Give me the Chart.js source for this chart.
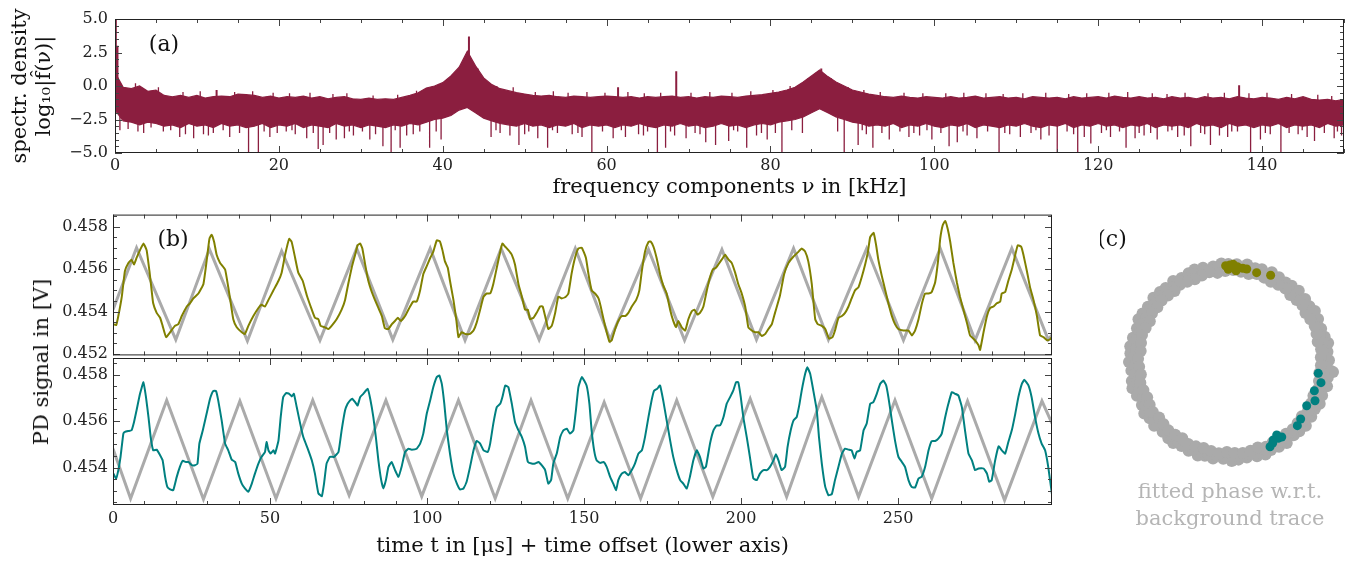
<!DOCTYPE html>
<html>
<head>
<meta charset="utf-8">
<title>spectrum and PD signal</title>
<script src="https://cdn.jsdelivr.net/npm/chart.js@4.4.1/dist/chart.umd.min.js"></script>
<style>
  body { margin: 0; background: #fff; width: 1369px; height: 565px; position: relative; overflow: hidden; font-family: 'DejaVu Serif', serif; }
  canvas { position: absolute; }
  #ylabB { position: absolute; left: 41px; top: 362px; transform: translate(-50%, -50%) rotate(-90deg); font-size: 21px; white-space: nowrap; color: #111; }
</style>
</head>
<body>
<canvas id="specChart" width="1369" height="200" style="left:0;top:0"></canvas>
<canvas id="oliveChart" width="1100" height="170" style="left:0;top:200px"></canvas>
<canvas id="tealChart" width="1100" height="225" style="left:0;top:340px"></canvas>
<canvas id="phaseChart" width="269" height="345" style="left:1100px;top:220px"></canvas>
<div id="ylabB">PD signal in [V]</div>
<script>
// ---- tick labels ----
const freqTicks = [0, 20, 40, 60, 80, 100, 120, 140];
const specTicks = [-5, -2.5, 0, 2.5, 5];
const timeTicks = [0, 50, 100, 150, 200, 250];
const voltTicks = [0.452, 0.454, 0.456, 0.458];

// ---- panel (a): spectral density, band edges per 1 kHz bin (log10) ----
const specHi = [1.0,-0.1,-0.2,0.0,-0.4,-0.3,-0.7,-0.8,-0.7,-0.85,-0.7,-0.9,-0.8,-0.75,-0.8,-0.6,-0.65,-0.7,-0.85,-0.75,
  -0.9,-0.8,-0.85,-0.75,-0.9,-0.8,-0.95,-0.85,-0.8,-0.95,-1.0,-0.9,-1.0,-0.95,-1.0,-0.85,-0.7,-0.5,-0.15,0.0,
  0.25,0.75,1.4,2.6,1.5,0.6,0.1,-0.2,-0.35,-0.5,-0.6,-0.7,-0.75,-0.7,-0.8,-0.85,-0.75,-0.8,-0.85,-0.8,
  -0.75,-0.8,-0.85,-0.8,-0.9,-0.8,-0.85,-0.8,-0.75,-0.85,-0.8,-0.9,-0.8,-0.85,-0.75,-0.8,-0.85,-0.75,-0.7,-0.65,
  -0.55,-0.45,-0.3,-0.1,0.3,0.75,1.2,0.7,0.3,0.0,-0.3,-0.45,-0.6,-0.7,-0.8,-0.85,-0.75,-0.85,-0.9,-0.8,
  -0.85,-0.9,-0.8,-0.9,-0.85,-0.75,-0.9,-0.85,-0.8,-0.9,-0.85,-0.95,-0.8,-0.85,-0.9,-0.85,-0.95,-0.8,-0.9,-0.85,
  -0.8,-0.9,-0.75,-0.85,-0.9,-0.8,-0.9,-0.85,-0.95,-0.8,-0.9,-0.85,-0.95,-0.8,-0.9,-0.85,-0.95,-0.8,-0.9,-0.95,
  -0.85,-0.9,-1.0,-0.85,-0.95,-0.8,-1.0,-1.05,-1.0,-1.1,-1.0];
const specLo = [-1.8,-2.6,-2.7,-2.9,-2.7,-2.8,-3.0,-2.9,-3.1,-2.8,-3.0,-2.9,-3.1,-2.8,-3.0,-2.9,-3.1,-3.0,-2.8,-3.1,
  -2.9,-3.0,-2.8,-3.1,-2.9,-3.0,-3.1,-2.8,-3.0,-2.9,-3.1,-2.9,-3.0,-3.1,-2.9,-3.0,-2.8,-2.9,-2.7,-2.5,
  -2.4,-2.2,-1.8,-1.6,-2.0,-2.4,-2.6,-2.8,-2.9,-3.0,-2.8,-3.0,-2.9,-3.1,-2.9,-3.0,-2.8,-3.1,-2.9,-3.0,
  -2.9,-3.1,-2.9,-3.0,-2.8,-3.0,-3.1,-2.9,-3.0,-2.8,-3.0,-2.9,-3.1,-3.0,-2.8,-3.0,-2.9,-3.1,-2.9,-2.8,
  -2.9,-2.7,-2.6,-2.5,-2.3,-2.0,-1.7,-2.0,-2.3,-2.5,-2.7,-2.8,-3.0,-2.9,-3.0,-2.8,-3.1,-2.9,-3.0,-2.8,
  -3.0,-3.1,-2.9,-3.0,-2.8,-3.1,-2.9,-3.0,-3.1,-2.9,-3.0,-2.8,-3.0,-3.1,-2.9,-3.0,-2.8,-3.1,-2.9,-3.0,
  -2.8,-3.0,-2.9,-3.1,-2.9,-3.0,-2.8,-3.1,-2.9,-3.0,-2.9,-3.1,-2.8,-3.0,-2.9,-3.1,-2.8,-3.0,-2.9,-3.1,
  -2.9,-3.0,-2.8,-3.1,-2.9,-3.0,-2.9,-3.1,-2.8,-3.0,-2.9];
const specFreq = specHi.map((_, i) => i);   // kHz, one bin per kHz

// single-bin dips below the band [kHz, log10]
const dips = [[0.6,-3.3],[1.6,-3.2],[2.8,-3.4],[3.5,-3.5],[4.4,-3.1],[5.9,-3.4],[6.8,-3.3],[7.9,-3.8],[8.6,-3.6],[9.6,-3.9],
  [10.8,-3.6],[11.4,-3.7],[12.0,-3.5],[13.2,-3.3],[14.0,-3.8],[15.2,-3.5],[16.3,-5.0],[17.5,-5.0],[18.2,-3.4],[18.9,-3.8],
  [19.8,-3.5],[20.9,-3.4],[21.6,-3.3],[22.0,-3.6],[23.4,-3.9],[24.2,-3.5],[24.8,-4.7],[25.4,-4.4],[26.2,-3.5],[27.0,-4.0],
  [28.0,-3.9],[28.6,-3.4],[29.1,-3.7],[30.2,-3.4],[31.1,-4.0],[31.8,-3.6],[32.7,-4.5],[33.7,-5.0],[34.2,-3.3],[34.8,-4.6],
  [35.6,-3.7],[36.4,-3.6],[37.2,-3.4],[38.4,-4.6],[39.2,-3.4],[39.8,-4.0],[45.9,-3.8],[46.5,-3.3],[47.0,-3.5],[48.2,-3.7],
  [49.3,-4.4],[50.0,-3.6],[50.5,-3.4],[51.6,-3.9],[52.8,-4.6],[53.4,-3.3],[54.0,-3.5],[55.8,-3.6],[56.5,-3.5],[57.0,-3.8],
  [58.2,-5.0],[59.5,-3.4],[60.8,-3.9],[61.8,-3.3],[62.3,-3.8],[63.9,-3.6],[64.5,-3.7],[65.0,-3.4],[66.2,-5.0],[67.2,-4.6],
  [67.8,-3.4],[68.3,-3.7],[69.7,-3.9],[70.8,-3.5],[71.4,-3.6],[72.1,-4.2],[73.3,-4.4],[74.9,-4.1],[75.5,-3.3],[76.0,-3.4],
  [77.1,-4.6],[78.3,-3.7],[78.9,-3.5],[79.6,-4.0],[80.6,-3.5],[81.4,-5.0],[82.6,-3.3],[83.9,-3.5],[88.2,-3.4],[89.0,-5.0],
  [90.7,-4.4],[91.2,-3.3],[91.7,-3.6],[92.5,-4.6],[93.6,-3.5],[94.5,-4.0],[95.8,-3.4],[96.9,-3.8],[97.5,-3.5],[98.2,-3.7],
  [99.1,-3.3],[99.7,-4.0],[100.8,-3.5],[101.8,-4.5],[102.8,-4.2],[103.5,-3.4],[104.0,-3.7],[105.2,-3.9],[106.5,-3.4],
  [107.9,-5.0],[108.6,-3.5],[109.2,-3.6],[110.5,-3.8],[111.8,-3.5],[112.4,-3.3],[113.0,-4.0],[114.0,-3.7],[115.0,-5.0],
  [116.2,-3.4],[117.0,-3.6],[117.5,-5.0],[118.3,-3.8],[119.1,-4.3],[120.4,-3.5],[121.0,-3.3],[121.5,-3.8],[122.6,-3.4],
  [123.4,-4.6],[124.5,-3.9],[125.0,-3.5],[125.6,-3.7],[126.4,-3.5],[127.2,-4.0],[128.5,-3.4],[129.0,-3.3],[129.7,-3.8],
  [130.5,-3.7],[131.3,-4.5],[132.5,-3.5],[133.0,-3.6],[133.7,-4.4],[134.8,-3.7],[135.8,-3.8],[136.3,-3.4],[137.0,-3.4],
  [138.6,-5.0],[139.8,-4.0],[140.4,-3.5],[141.0,-3.6],[142.3,-5.0],[143.3,-3.5],[144.4,-3.6],[144.9,-3.3],[145.5,-3.8],
  [146.4,-4.1],[147.6,-3.5],[148.8,-3.9],[149.2,-3.4],[149.7,-3.7]];
// short excursions above the band top [kHz, log10]
const hairs = [[2.5,0.2],[5.3,-0.1],[8.3,-0.45],[10.4,-0.4],[14.6,-0.45],[16.8,-0.4],[19.3,-0.5],[21.3,-0.55],[23.8,-0.5],
  [26.6,-0.6],[28.3,-0.55],[31.5,-0.7],[34.5,-0.65],[36.8,-0.35],[40.5,0.5],[41.6,1.0],[44.3,1.3],[46.6,0.0],[48.6,-0.1],
  [51.3,-0.45],[53.5,-0.4],[55.3,-0.5],[57.6,-0.45],[59.8,-0.5],[62.6,-0.45],[64.6,-0.55],[66.6,-0.5],[70.3,-0.5],
  [72.6,-0.45],[75.3,-0.5],[77.6,-0.4],[80.3,-0.3],[82.4,0.0],[84.6,0.6],[85.6,1.0],[87.4,0.6],[89.5,-0.1],[91.4,-0.3],
  [93.4,-0.45],[96.3,-0.5],[98.6,-0.55],[101.4,-0.55],[103.6,-0.5],[106.3,-0.55],[108.4,-0.6],[110.8,-0.55],[113.6,-0.5],
  [116.4,-0.6],[118.6,-0.55],[121.3,-0.5],[123.6,-0.45],[126.6,-0.55],[128.4,-0.6],[130.6,-0.5],[133.4,-0.55],[135.4,-0.5],
  [138.4,-0.55],[140.6,-0.5],[143.6,-0.6],[146.8,-0.65],[148.5,-0.75]];
// narrow lines far above the band [kHz, log10]
const spikes = [[0.1,5.0],[0.3,3.0],[12.4,-0.3],[43.2,3.7],[61.4,-0.1],[68.5,1.1],[86.2,1.3],[137.2,0.05]];

// ---- panel (b): PD signal traces [t in us, V] ----
const greyTop = [[0,0.45409],[7.5,0.45700],[20.0,0.45268],[30.7,0.45694],[42.8,0.45262],[53.7,0.45685],[65.9,0.45265],
  [77.6,0.45697],[89.1,0.45268],[101.0,0.45697],[112.1,0.45265],[123.6,0.45697],[135.7,0.45268],[147.2,0.45697],
  [158.3,0.45268],[170.5,0.45692],[182.0,0.45265],[193.9,0.45692],[204.9,0.45268],[216.7,0.45697],[227.8,0.45268],
  [240.0,0.45697],[251.7,0.45265],[263.4,0.45697],[274.5,0.45265],[286.2,0.45697],[297.8,0.45268],[299,0.45290]];
const oliveTrace = [[0.1,0.45341],[1.0,0.45336],[1.7,0.45379],[2.8,0.45470],[3.8,0.45591],[4.9,0.45629],[5.9,0.45644],
  [6.7,0.45621],[7.5,0.45652],[8.6,0.45689],[9.7,0.45720],[10.7,0.45689],[11.6,0.45591],[12.3,0.45500],[12.8,0.45439],
  [13.9,0.45394],[15.0,0.45371],[15.8,0.45333],[16.9,0.45280],[18.2,0.45303],[19.7,0.45333],[20.8,0.45341],[21.9,0.45379],
  [23.5,0.45424],[24.5,0.45439],[25.6,0.45462],[27.2,0.45485],[28.8,0.45530],[29.8,0.45636],[30.7,0.45742],[31.4,0.45761],
  [32.2,0.45727],[33.0,0.45667],[34.1,0.45629],[35.7,0.45598],[36.7,0.45515],[37.5,0.45439],[38.3,0.45364],[39.4,0.45326],
  [41.0,0.45303],[42.0,0.45295],[43.1,0.45333],[44.7,0.45379],[46.3,0.45417],[47.3,0.45432],[48.4,0.45424],[49.5,0.45455],
  [51.1,0.45500],[52.7,0.45545],[53.7,0.45583],[54.8,0.45667],[56.1,0.45742],[56.9,0.45727],[58.0,0.45652],[59.0,0.45583],
  [60.4,0.45545],[61.7,0.45477],[63.3,0.45409],[64.3,0.45371],[65.4,0.45364],[66.1,0.45333],[67.5,0.45326],[68.6,0.45318],
  [69.6,0.45333],[71.2,0.45364],[72.8,0.45409],[73.9,0.45455],[74.9,0.45530],[76.0,0.45606],[77.1,0.45667],[77.9,0.45712],
  [78.7,0.45720],[79.4,0.45697],[80.3,0.45621],[81.3,0.45545],[82.4,0.45492],[83.4,0.45455],[84.5,0.45417],[85.6,0.45379],
  [86.6,0.45321],[87.7,0.45318],[88.8,0.45341],[89.8,0.45356],[90.7,0.45371],[91.7,0.45356],[93.0,0.45379],[94.6,0.45424],
  [95.6,0.45447],[96.7,0.45447],[97.8,0.45500],[98.8,0.45576],[99.9,0.45614],[101.0,0.45652],[102.0,0.45682],[103.1,0.45735],
  [104.1,0.45730],[104.9,0.45689],[105.7,0.45636],[106.6,0.45606],[107.3,0.45545],[108.4,0.45455],[109.3,0.45364],
  [110.0,0.45280],[111.0,0.45303],[112.1,0.45295],[113.7,0.45295],[114.8,0.45311],[115.8,0.45348],[116.9,0.45409],
  [118.0,0.45470],[119.0,0.45485],[120.1,0.45485],[121.1,0.45530],[122.2,0.45606],[123.3,0.45682],[124.0,0.45720],
  [124.9,0.45705],[125.9,0.45689],[127.0,0.45667],[128.0,0.45621],[129.1,0.45530],[130.2,0.45470],[131.2,0.45409],
  [132.1,0.45409],[132.8,0.45364],[133.9,0.45371],[134.9,0.45394],[136.0,0.45424],[136.8,0.45424],[137.6,0.45379],
  [138.6,0.45318],[139.7,0.45333],[140.8,0.45394],[141.8,0.45470],[142.9,0.45462],[144.2,0.45470],[145.0,0.45485],
  [146.0,0.45576],[147.1,0.45652],[148.2,0.45697],[149.3,0.45700],[150.6,0.45652],[151.4,0.45576],[152.4,0.45500],
  [153.5,0.45485],[154.6,0.45462],[155.3,0.45424],[156.2,0.45364],[157.2,0.45303],[158.1,0.45258],[158.8,0.45265],
  [159.9,0.45318],[160.9,0.45356],[162.0,0.45379],[163.1,0.45379],[164.1,0.45394],[165.2,0.45424],[166.6,0.45455],
  [167.6,0.45500],[168.4,0.45591],[169.4,0.45682],[170.5,0.45727],[171.2,0.45730],[172.1,0.45705],[173.1,0.45652],
  [174.2,0.45576],[175.2,0.45523],[176.3,0.45485],[177.4,0.45409],[178.4,0.45356],[179.3,0.45326],[180.0,0.45356],
  [181.1,0.45326],[182.2,0.45311],[183.2,0.45364],[184.3,0.45402],[185.1,0.45409],[186.1,0.45386],[186.9,0.45394],
  [188.0,0.45424],[189.1,0.45500],[190.1,0.45561],[191.0,0.45598],[192.0,0.45606],[193.1,0.45629],[194.2,0.45652],
  [194.9,0.45667],[196.0,0.45644],[197.0,0.45629],[198.1,0.45583],[199.1,0.45530],[200.2,0.45485],[201.3,0.45424],
  [202.3,0.45326],[203.4,0.45311],[204.5,0.45303],[205.5,0.45303],[206.6,0.45285],[207.7,0.45295],[208.7,0.45318],
  [209.8,0.45341],[210.8,0.45394],[212.4,0.45477],[213.7,0.45576],[215.1,0.45629],[216.7,0.45659],[218.3,0.45682],
  [219.3,0.45697],[220.4,0.45682],[221.4,0.45636],[222.5,0.45530],[223.6,0.45364],[224.4,0.45341],[225.7,0.45333],
  [226.8,0.45318],[228.0,0.45273],[229.1,0.45280],[229.9,0.45311],[231.0,0.45371],[232.1,0.45379],[233.1,0.45394],
  [234.2,0.45424],[235.2,0.45462],[236.3,0.45500],[237.4,0.45515],[238.4,0.45561],[239.5,0.45621],[240.4,0.45682],
  [241.1,0.45750],[242.2,0.45770],[243.0,0.45712],[243.7,0.45644],[244.8,0.45568],[245.9,0.45500],[246.9,0.45439],
  [248.0,0.45379],[249.0,0.45341],[250.1,0.45318],[251.7,0.45311],[253.3,0.45311],[254.4,0.45288],[255.4,0.45311],
  [256.5,0.45364],[257.6,0.45439],[258.6,0.45485],[259.7,0.45485],[260.7,0.45492],[261.8,0.45538],[262.7,0.45636],
  [263.4,0.45742],[264.2,0.45806],[265.0,0.45826],[265.8,0.45788],[266.6,0.45727],[267.6,0.45629],[268.7,0.45538],
  [269.7,0.45470],[270.8,0.45409],[271.9,0.45348],[272.9,0.45288],[274.5,0.45265],[275.6,0.45242],[276.1,0.45220],
  [277.2,0.45303],[278.3,0.45379],[279.3,0.45417],[280.4,0.45424],[281.4,0.45439],[282.5,0.45447],[283.0,0.45485],
  [284.1,0.45492],[285.1,0.45545],[286.2,0.45598],[287.3,0.45667],[288.1,0.45712],[289.2,0.45705],[289.9,0.45667],
  [291.0,0.45591],[292.0,0.45515],[293.1,0.45455],[294.2,0.45379],[295.2,0.45288],[296.3,0.45280],[297.4,0.45265],
  [298.4,0.45270],[299.0,0.45280]];
const greyBottom = [[0,0.45481],[5.6,0.45267],[17.1,0.45689],[28.8,0.45264],[40.4,0.45686],[51.9,0.45267],[63.6,0.45689],
  [75.2,0.45281],[86.9,0.45689],[98.3,0.45276],[110.0,0.45689],[121.7,0.45267],[133.1,0.45689],[144.8,0.45267],
  [156.4,0.45681],[168.0,0.45267],[179.5,0.45689],[191.0,0.45274],[202.9,0.45696],[214.5,0.45274],[225.7,0.45703],
  [237.4,0.45274],[249.0,0.45689],[260.7,0.45267],[272.1,0.45686],[283.9,0.45260],[295.8,0.45686],[299,0.45590]];
const tealTrace = [[0.1,0.45374],[1.0,0.45353],[1.7,0.45389],[2.4,0.45446],[3.3,0.45546],[3.8,0.45553],[4.9,0.45557],
  [5.9,0.45560],[6.7,0.45596],[7.5,0.45646],[8.6,0.45717],[9.7,0.45767],[10.5,0.45703],[11.3,0.45617],[12.0,0.45531],
  [12.8,0.45474],[13.9,0.45477],[15.0,0.45453],[15.8,0.45431],[16.6,0.45360],[17.3,0.45317],[18.2,0.45306],[19.2,0.45303],
  [20.3,0.45360],[21.3,0.45403],[22.2,0.45429],[23.2,0.45424],[24.0,0.45424],[25.1,0.45410],[26.1,0.45410],[26.9,0.45417],
  [27.5,0.45503],[28.6,0.45560],[29.8,0.45631],[30.9,0.45696],[31.9,0.45729],[32.8,0.45729],[33.5,0.45689],[34.6,0.45603],
  [35.7,0.45503],[36.7,0.45474],[37.8,0.45434],[38.9,0.45424],[39.9,0.45374],[41.0,0.45331],[42.0,0.45310],[43.1,0.45296],
  [44.2,0.45331],[45.2,0.45374],[46.3,0.45417],[47.3,0.45446],[48.4,0.45467],[48.9,0.45510],[49.5,0.45474],[50.2,0.45460],
  [51.1,0.45474],[51.6,0.45460],[52.7,0.45517],[53.4,0.45617],[54.2,0.45703],[55.1,0.45720],[56.1,0.45717],[56.9,0.45706],
  [57.6,0.45717],[58.5,0.45660],[59.6,0.45589],[60.6,0.45531],[62.2,0.45474],[63.3,0.45431],[64.3,0.45374],[65.4,0.45289],
  [66.5,0.45277],[67.2,0.45331],[68.0,0.45417],[69.1,0.45446],[70.4,0.45446],[71.8,0.45467],[72.8,0.45560],[73.9,0.45646],
  [74.7,0.45674],[75.5,0.45689],[76.2,0.45696],[77.1,0.45681],[77.9,0.45667],[78.7,0.45703],[79.7,0.45717],[81.1,0.45739],
  [81.9,0.45696],[82.9,0.45617],[83.7,0.45531],[84.5,0.45431],[85.4,0.45346],[86.1,0.45310],[86.9,0.45346],[87.7,0.45403],
  [88.7,0.45424],[89.8,0.45389],[90.9,0.45360],[91.9,0.45403],[93.0,0.45467],[94.1,0.45481],[95.1,0.45477],[96.7,0.45481],
  [97.8,0.45503],[98.8,0.45546],[99.9,0.45631],[101.0,0.45689],[102.0,0.45746],[103.1,0.45789],[103.9,0.45796],
  [104.7,0.45760],[105.5,0.45674],[106.3,0.45560],[107.3,0.45460],[108.4,0.45374],[109.5,0.45331],[110.5,0.45306],
  [111.6,0.45310],[112.6,0.45339],[113.7,0.45403],[114.8,0.45474],[115.8,0.45514],[116.9,0.45503],[118.0,0.45474],
  [119.3,0.45467],[120.1,0.45503],[121.1,0.45589],[122.2,0.45660],[123.3,0.45674],[124.0,0.45703],[124.9,0.45753],
  [125.9,0.45746],[127.0,0.45674],[128.0,0.45596],[129.1,0.45560],[130.2,0.45531],[131.2,0.45489],[132.1,0.45424],
  [133.3,0.45417],[134.4,0.45417],[135.5,0.45424],[136.5,0.45410],[137.6,0.45389],[138.6,0.45331],[139.5,0.45346],
  [140.2,0.45417],[141.3,0.45460],[142.4,0.45531],[143.4,0.45560],[144.5,0.45567],[145.5,0.45546],[146.6,0.45560],
  [147.4,0.45646],[148.2,0.45746],[149.3,0.45789],[150.8,0.45753],[151.7,0.45674],[152.4,0.45560],[153.2,0.45474],
  [154.0,0.45431],[155.1,0.45420],[156.2,0.45424],[157.2,0.45403],[158.3,0.45360],[159.3,0.45331],[160.2,0.45303],
  [160.9,0.45346],[162.0,0.45374],[163.0,0.45381],[164.1,0.45367],[165.2,0.45389],[166.2,0.45417],[167.3,0.45460],
  [168.4,0.45474],[169.4,0.45531],[170.5,0.45617],[171.5,0.45689],[172.3,0.45731],[173.3,0.45739],[174.2,0.45753],
  [175.2,0.45689],[176.3,0.45603],[177.4,0.45517],[178.4,0.45446],[179.5,0.45389],[180.6,0.45346],[181.6,0.45331],
  [182.7,0.45310],[183.7,0.45360],[184.8,0.45431],[185.9,0.45474],[186.9,0.45446],[188.0,0.45396],[188.8,0.45403],
  [190.1,0.45503],[191.2,0.45560],[192.2,0.45581],[193.3,0.45581],[194.4,0.45617],[195.4,0.45674],[196.5,0.45703],
  [197.5,0.45731],[198.4,0.45767],[199.1,0.45767],[199.9,0.45703],[200.7,0.45617],[201.8,0.45531],[202.8,0.45446],
  [203.9,0.45353],[205.0,0.45346],[206.0,0.45374],[207.1,0.45389],[208.2,0.45389],[209.2,0.45403],[210.3,0.45431],
  [211.1,0.45457],[211.9,0.45431],[212.9,0.45389],[214.0,0.45403],[214.8,0.45489],[215.8,0.45560],[216.7,0.45603],
  [217.7,0.45617],[218.6,0.45674],[219.3,0.45731],[220.4,0.45803],[221.1,0.45831],[222.0,0.45803],[223.0,0.45731],
  [224.1,0.45646],[224.8,0.45531],[225.7,0.45417],[226.8,0.45317],[227.8,0.45281],[228.9,0.45286],[229.9,0.45346],
  [231.0,0.45403],[232.1,0.45460],[233.1,0.45481],[234.2,0.45477],[235.2,0.45474],[236.1,0.45439],[236.8,0.45467],
  [237.9,0.45474],[239.0,0.45560],[240.0,0.45589],[241.1,0.45674],[242.1,0.45681],[243.2,0.45717],[244.3,0.45760],
  [245.3,0.45774],[246.2,0.45753],[246.9,0.45703],[248.0,0.45603],[249.0,0.45517],[250.1,0.45446],[251.2,0.45424],
  [252.2,0.45403],[253.3,0.45346],[254.3,0.45317],[255.4,0.45314],[256.5,0.45353],[257.5,0.45360],[258.6,0.45403],
  [259.7,0.45474],[260.7,0.45514],[261.8,0.45514],[262.8,0.45524],[263.9,0.45546],[265.0,0.45617],[266.0,0.45674],
  [267.1,0.45724],[268.2,0.45717],[269.2,0.45710],[270.3,0.45660],[271.3,0.45560],[272.4,0.45460],[273.5,0.45431],
  [274.5,0.45389],[275.6,0.45396],[277.2,0.45396],[278.3,0.45374],[279.0,0.45339],[279.8,0.45346],[280.9,0.45431],
  [282.0,0.45491],[283.0,0.45474],[284.1,0.45460],[285.1,0.45510],[286.2,0.45560],[287.3,0.45631],[288.3,0.45703],
  [289.4,0.45760],[290.2,0.45777],[291.5,0.45753],[292.5,0.45703],[293.6,0.45617],[294.7,0.45546],[295.7,0.45503],
  [296.8,0.45474],[297.8,0.45403],[299.1,0.45274]];

// ---- panel (c): fitted phase [deg, relative amplitude] ----
const olivePhase = [[92.6,0.964],[90,0.97],[88.1,0.977],[85.6,0.956],[82.3,0.946],[79.8,0.945],[91.1,0.927],[86.2,0.915],
  [73.4,0.932],[64.9,0.958]];
const tealPhase = [[-7.3,0.890],[-12.8,0.933],[-18.8,0.891],[-24.5,0.934],[-29.7,0.883],[-38.9,0.908],[-43.4,0.927],
  [-57.4,0.867],[-61.0,0.892],[-64.7,0.937],[-57.7,0.903],[-62.2,0.916],[-55.4,0.911]];
const backgroundPhase = [[1,0.99],[6,0.98],[11,1.0],[15,0.98],[20,0.97],[26,0.98],[31,0.99],[35,0.97],[40,0.98],[46,0.99],
  [51,0.98],[55,0.97],[60,0.98],[65,0.99],[71,0.98],[75,0.97],[80,0.99],[86,0.98],[91,0.98],[95,0.99],[100,0.97],[106,0.98],
  [111,0.99],[115,0.98],[120,0.97],[125,0.99],[131,0.98],[135,0.99],[140,1.0],[146,0.99],[151,1.0],[155,1.01],[160,0.99],
  [166,1.0],[171,1.01],[175,1.0],[180,1.01],[185,0.99],[191,1.0],[195,1.01],[200,0.99],[206,0.98],[211,1.0],[215,0.98],
  [220,0.99],[226,0.97],[231,0.98],[235,0.99],[240,0.97],[245,0.98],[251,0.99],[255,0.97],[260,0.98],[266,0.97],[271,0.99],
  [275,0.98],[280,0.97],[286,0.98],[291,0.99],[295,0.97],[300,0.98],[305,0.99],[311,0.97],[315,0.98],[320,0.99],[326,0.98],
  [331,0.97],[335,0.99],[340,0.98],[346,1.0],[351,0.99],[355,1.01],[354.5,1.035],
  [2,0.95],[7,0.94],[12,0.95],[17,0.94],[22,0.95],[27,0.95],[32,0.94],[37,0.95],[42,0.94],[47,0.95],[52,0.95],[57,0.94],
  [62,0.95],[67,0.94],[72,0.95],[77,0.94],[82,0.95],[87,0.95],[92,0.94],[97,0.95],[102,0.94],[107,0.95],[112,0.95],
  [117,0.94],[122,0.95],[127,0.94],[132,0.95],[137,0.96],[142,0.95],[147,0.96],[152,0.95],[157,0.96],[162,0.95],[167,0.96],
  [172,0.95],[177,0.96],[182,0.95],[187,0.96],[192,0.95],[197,0.95],[202,0.94],[207,0.95],[212,0.94],[217,0.95],[222,0.94],
  [227,0.95],[232,0.94],[237,0.95],[242,0.94],[247,0.95],[252,0.94],[257,0.95],[262,0.94],[267,0.95],[272,0.94],[277,0.95],
  [282,0.94],[287,0.95],[292,0.94],[297,0.95],[302,0.94],[307,0.95],[312,0.94],[317,0.95],[322,0.94],[327,0.95],[332,0.94],
  [337,0.95],[342,0.95],[347,0.96],[352,0.95],[357,0.96],
  [3,0.91],[8,0.92],[13,0.90],[18,0.91],[23,0.92],[28,0.91],[33,0.90],[38,0.92],[43,0.91],[48,0.90],[53,0.92],[58,0.91],
  [63,0.90],[68,0.91],[73,0.92],[78,0.90],[83,0.91],[88,0.92],[93,0.91],[98,0.90],[103,0.92],[108,0.91],[113,0.90],[118,0.91],
  [123,0.92],[128,0.90],[133,0.91],[138,0.92],[143,0.91],[148,0.92],[153,0.90],[158,0.91],[163,0.92],[168,0.91],[173,0.90],
  [178,0.92],[183,0.91],[188,0.90],[193,0.92],[198,0.91],[203,0.90],[208,0.91],[213,0.92],[218,0.90],[223,0.91],[228,0.92],
  [233,0.91],[238,0.90],[243,0.92],[248,0.91],[253,0.90],[258,0.91],[263,0.92],[268,0.90],[273,0.91],[278,0.92],[283,0.91],
  [288,0.90],[293,0.92],[298,0.91],[303,0.90],[308,0.91],[313,0.92],[318,0.91],[323,0.90],[328,0.92],[333,0.91],[338,0.90],
  [343,0.92],[348,0.91],[353,0.90],[358,0.91]];

const MAROON = '#8b1e3f';
const OLIVE = '#808000';
const TEAL = '#008080';
const GREY = '#aaaaaa';

Chart.defaults.font.family = "'DejaVu Serif', serif";
Chart.defaults.color = '#222';
Chart.defaults.animation = false;

// Frame with inward major/minor ticks on all four sides
const frameTicks = {
    id: 'frameTicks',
    afterDatasetsDraw(chart, args, o) {
        if (!o.xStep) return;
        const {ctx, chartArea: a} = chart;
        const xs = chart.scales.x, ys = chart.scales.y;
        const marks = (scale, step, major, cb) => {
            const n0 = Math.ceil(scale.min / step - 1e-6), n1 = Math.floor(scale.max / step + 1e-6);
            for (let n = n0; n <= n1; n++) {
                const r = n * step / major;
                cb(Math.round(scale.getPixelForValue(n * step)) + 0.5, Math.abs(r - Math.round(r)) < 1e-6);
            }
        };
        ctx.save();
        ctx.strokeStyle = '#444';
        ctx.lineWidth = 1;
        ctx.beginPath();
        marks(xs, o.xStep, o.xMajor, (p, big) => {
            const len = big ? 7 : 4;
            ctx.moveTo(p, a.bottom); ctx.lineTo(p, a.bottom - len);
            ctx.moveTo(p, a.top); ctx.lineTo(p, a.top + len);
        });
        marks(ys, o.yStep, o.yMajor, (p, big) => {
            const len = big ? 7 : 4;
            ctx.moveTo(a.left, p); ctx.lineTo(a.left + len, p);
            ctx.moveTo(a.right, p); ctx.lineTo(a.right - len, p);
        });
        ctx.stroke();
        ctx.strokeStyle = '#222';
        ctx.strokeRect(a.left + 0.5, a.top + 0.5, a.right - a.left - 1, a.bottom - a.top - 1);
        ctx.restore();
    }
};

// Panel letters
const panelText = {
    id: 'panelText',
    afterDraw(chart, args, o) {
        if (!o.items) return;
        const ctx = chart.ctx;
        ctx.save();
        ctx.textAlign = 'center';
        ctx.textBaseline = 'middle';
        o.items.forEach(it => {
            ctx.font = "22px 'DejaVu Serif', serif";
            ctx.fillStyle = '#111';
            ctx.fillText(it.text, it.x, it.y);
        });
        ctx.restore();
    }
};
Chart.register(frameTicks, panelText);

const noGrid = {display: false, drawTicks: false};
const tickFont = {size: 16};
const titleFont = {size: 21};
const fixTicks = list => scale => { scale.ticks = list.map(v => ({value: v})); };

// vertical strokes from inside the band to a value, broken by gaps
function strokes(list, base) {
    const out = [];
    list.forEach(([f, v]) => { out.push({x: f, y: base}, {x: f, y: v}, {x: f, y: null}); });
    return out;
}
const toXY = arr => arr.map(([x, y]) => ({x, y}));
const polar = arr => arr.map(([deg, r]) => ({x: r * Math.cos(deg * Math.PI / 180), y: r * Math.sin(deg * Math.PI / 180)}));

// (a) spectral density
new Chart(document.getElementById('specChart'), {
    type: 'line',
    data: {
        datasets: [{
            data: specHi.map((v, i) => ({x: specFreq[i], y: v})),
            borderColor: MAROON, backgroundColor: MAROON, borderWidth: 1.2, fill: '+1'
        }, {
            data: specLo.map((v, i) => ({x: specFreq[i], y: v})),
            borderColor: MAROON, borderWidth: 1.2, fill: false
        }, {
            data: strokes(dips, -2.2), borderColor: MAROON, borderWidth: 1.3, spanGaps: false
        }, {
            data: strokes(hairs, -1.5), borderColor: MAROON, borderWidth: 1.3, spanGaps: false
        }, {
            data: strokes(spikes, -1.5), borderColor: MAROON, borderWidth: 2, spanGaps: false
        }]
    },
    options: {
        responsive: false,
        layout: {padding: {top: 19, right: 25, left: 0, bottom: 0}},
        elements: {point: {radius: 0}, line: {tension: 0}},
        plugins: {
            legend: {display: false}, tooltip: {enabled: false},
            frameTicks: {xStep: 5, xMajor: 20, yStep: 0.5, yMajor: 2.5},
            panelText: {items: [{text: '(a)', x: 164, y: 45}]}
        },
        scales: {
            x: {
                type: 'linear', min: 0, max: 150,
                grid: noGrid, border: {display: false},
                afterBuildTicks: fixTicks(freqTicks),
                ticks: {padding: 3, font: tickFont, maxRotation: 0, autoSkip: false},
                title: {display: true, text: 'frequency components \u03bd in [kHz]', font: titleFont, color: '#111', padding: {top: 0, bottom: 0}},
                afterFit: s => { s.height = 47; }
            },
            y: {
                min: -5, max: 5,
                grid: noGrid, border: {display: false},
                afterBuildTicks: fixTicks(specTicks),
                ticks: {padding: 7, font: tickFont, autoSkip: false,
                    callback: v => (v < 0 ? '\u2212' : '') + Math.abs(v).toFixed(1)},
                title: {display: true, text: ['spectr. density', 'log\u2081\u2080|f\u0302(\u03bd)|'],
                    font: {size: 21, lineHeight: 1.15}, color: '#111', padding: {top: 8, bottom: 0}},
                afterFit: s => { s.width = 115; }
            }
        }
    }
});

// (b) upper: olive trace vs background
new Chart(document.getElementById('oliveChart'), {
    type: 'line',
    data: {
        datasets: [
            {data: toXY(oliveTrace), borderColor: OLIVE, borderWidth: 2, tension: 0.12},
            {data: toXY(greyTop), borderColor: GREY, borderWidth: 3, tension: 0}
        ]
    },
    options: {
        responsive: false,
        layout: {padding: {top: 13, right: 48, left: 0, bottom: 0}},
        elements: {point: {radius: 0}},
        plugins: {
            legend: {display: false}, tooltip: {enabled: false},
            frameTicks: {xStep: 10, xMajor: 50, yStep: 0.0005, yMajor: 0.002},
            panelText: {items: [{text: '(b)', x: 173, y: 40}]}
        },
        scales: {
            x: {
                type: 'linear', min: 0, max: 299,
                grid: noGrid, border: {display: false},
                afterBuildTicks: fixTicks(timeTicks),
                ticks: {display: false},
                afterFit: s => { s.height = 12; }
            },
            y: {
                min: 0.45194, max: 0.45856,
                grid: noGrid, border: {display: false},
                afterBuildTicks: fixTicks(voltTicks),
                ticks: {padding: 5, font: tickFont, autoSkip: false, callback: v => v.toFixed(3)},
                afterFit: s => { s.width = 113; }
            }
        }
    }
});

// (b) lower: teal trace vs background
new Chart(document.getElementById('tealChart'), {
    type: 'line',
    data: {
        datasets: [
            {data: toXY(tealTrace), borderColor: TEAL, borderWidth: 2, tension: 0.12},
            {data: toXY(greyBottom), borderColor: GREY, borderWidth: 3, tension: 0}
        ]
    },
    options: {
        responsive: false,
        layout: {padding: {top: 18, right: 48, left: 0, bottom: 0}},
        elements: {point: {radius: 0}},
        plugins: {
            legend: {display: false}, tooltip: {enabled: false},
            frameTicks: {xStep: 10, xMajor: 50, yStep: 0.0005, yMajor: 0.002}
        },
        scales: {
            x: {
                type: 'linear', min: 0, max: 299,
                grid: noGrid, border: {display: false},
                afterBuildTicks: fixTicks(timeTicks),
                ticks: {padding: 4, font: tickFont, maxRotation: 0, autoSkip: false},
                title: {display: true, text: 'time t in [\u03bcs] + time offset (lower axis)', font: titleFont, color: '#111', padding: {top: 0, bottom: 6}},
                afterFit: s => { s.height = 60; }
            },
            y: {
                min: 0.45239, max: 0.45871,
                grid: noGrid, border: {display: false},
                afterBuildTicks: fixTicks(voltTicks.filter(v => v > 0.45239)),
                ticks: {padding: 5, font: tickFont, autoSkip: false, callback: v => v.toFixed(3)},
                afterFit: s => { s.width = 113; }
            }
        }
    }
});

// (c) fitted phase ring
new Chart(document.getElementById('phaseChart'), {
    type: 'scatter',
    data: {
        datasets: [
            {data: polar(olivePhase), backgroundColor: OLIVE, borderWidth: 0, pointRadius: 4.5},
            {data: polar(tealPhase), backgroundColor: TEAL, borderWidth: 0, pointRadius: 4.5},
            {data: polar(backgroundPhase), backgroundColor: GREY, borderWidth: 0, pointRadius: 6}
        ]
    },
    options: {
        responsive: false,
        layout: {padding: {top: 22, right: 19, left: 10, bottom: 0}},
        plugins: {
            legend: {display: false}, tooltip: {enabled: false},
            panelText: {items: [{text: '(c)', x: 12, y: 20}]}
        },
        scales: {
            x: {
                type: 'linear', min: -1.2, max: 1.2,
                grid: {display: false, drawTicks: false}, border: {display: false},
                ticks: {display: false},
                title: {display: true, text: ['fitted phase w.r.t.', 'background trace'],
                    font: {size: 21, lineHeight: 1.28}, color: '#b5b5b5', padding: {top: 0, bottom: 32}},
                afterFit: s => { s.height = 83; }
            },
            y: {type: 'linear', display: false, min: -1.2, max: 1.2}
        }
    }
});
</script>
</body>
</html>
